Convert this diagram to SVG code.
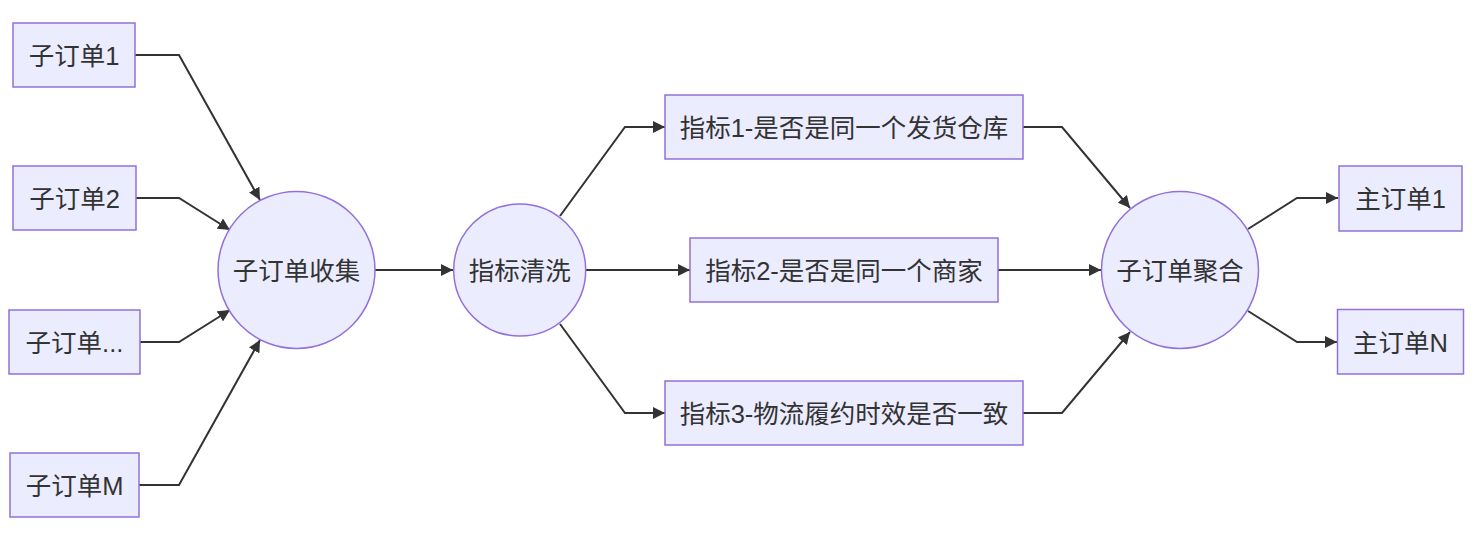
<svg xmlns="http://www.w3.org/2000/svg" width="1480" height="542" viewBox="0 0 1480 542">
<defs>
<style>
.box{fill:#ECECFF;stroke:#9370DB;stroke-width:1.5}
.lbl{font-family:"Liberation Sans","Noto Sans CJK SC",sans-serif;font-size:25.5px;fill:#333;text-anchor:middle;dominant-baseline:central}
.edge{fill:none;stroke:#333;stroke-width:2;marker-end:url(#arrow)}
</style>
<marker id="arrow" viewBox="0 0 10 10" refX="10" refY="5" markerWidth="12" markerHeight="12" markerUnits="userSpaceOnUse" orient="auto">
<path d="M0,0 L10,5 L0,10 z" fill="#333"/>
</marker>
</defs>
<rect width="1480" height="542" fill="#fff"/>
<g id="edges">
<polyline class="edge" points="135,55 179,55 260,200"/>
<polyline class="edge" points="136,198 179,198 230,230"/>
<polyline class="edge" points="140,342 179,342 230,310"/>
<polyline class="edge" points="139,485 179,485 260,340"/>
<polyline class="edge" points="375,270 453,270"/>
<polyline class="edge" points="560,216 625,127 665,127"/>
<polyline class="edge" points="586,270 690,270"/>
<polyline class="edge" points="560,324 625,413 665,413"/>
<polyline class="edge" points="1023,127 1062,127 1130,208"/>
<polyline class="edge" points="998,270 1101,270"/>
<polyline class="edge" points="1023,413 1062,413 1130,332"/>
<polyline class="edge" points="1248,229 1297,198 1338,198"/>
<polyline class="edge" points="1248,311 1297,342 1337,342"/>
</g>
<g id="s1"><rect class="box" x="13" y="23" width="122" height="64"/><text class="lbl" x="74" y="56">子订单1</text></g>
<g id="s2"><rect class="box" x="13" y="166" width="123" height="64"/><text class="lbl" x="74.5" y="199">子订单2</text></g>
<g id="s3"><rect class="box" x="9" y="310" width="131" height="64"/><text class="lbl" x="74.5" y="343">子订单...</text></g>
<g id="sM"><rect class="box" x="10" y="453" width="129" height="64"/><text class="lbl" x="74.5" y="486">子订单M</text></g>
<g id="collect"><circle class="box" cx="296.5" cy="270" r="78.5"/><text class="lbl" x="296.5" y="271">子订单收集</text></g>
<g id="clean"><circle class="box" cx="519.7" cy="270" r="66"/><text class="lbl" x="519.7" y="271">指标清洗</text></g>
<g id="m1"><rect class="box" x="665" y="95" width="358" height="64"/><text class="lbl" x="844" y="128">指标1-是否是同一个发货仓库</text></g>
<g id="m2"><rect class="box" x="690" y="238" width="308" height="64"/><text class="lbl" x="844" y="271">指标2-是否是同一个商家</text></g>
<g id="m3"><rect class="box" x="665" y="381" width="358" height="64"/><text class="lbl" x="844" y="414">指标3-物流履约时效是否一致</text></g>
<g id="agg"><circle class="box" cx="1180" cy="270" r="78.5"/><text class="lbl" x="1180" y="271">子订单聚合</text></g>
<g id="p1"><rect class="box" x="1339" y="166" width="123" height="65"/><text class="lbl" x="1400.5" y="199">主订单1</text></g>
<g id="pN"><rect class="box" x="1337.5" y="309.5" width="126" height="64.5"/><text class="lbl" x="1400.5" y="343">主订单N</text></g>
</svg>
